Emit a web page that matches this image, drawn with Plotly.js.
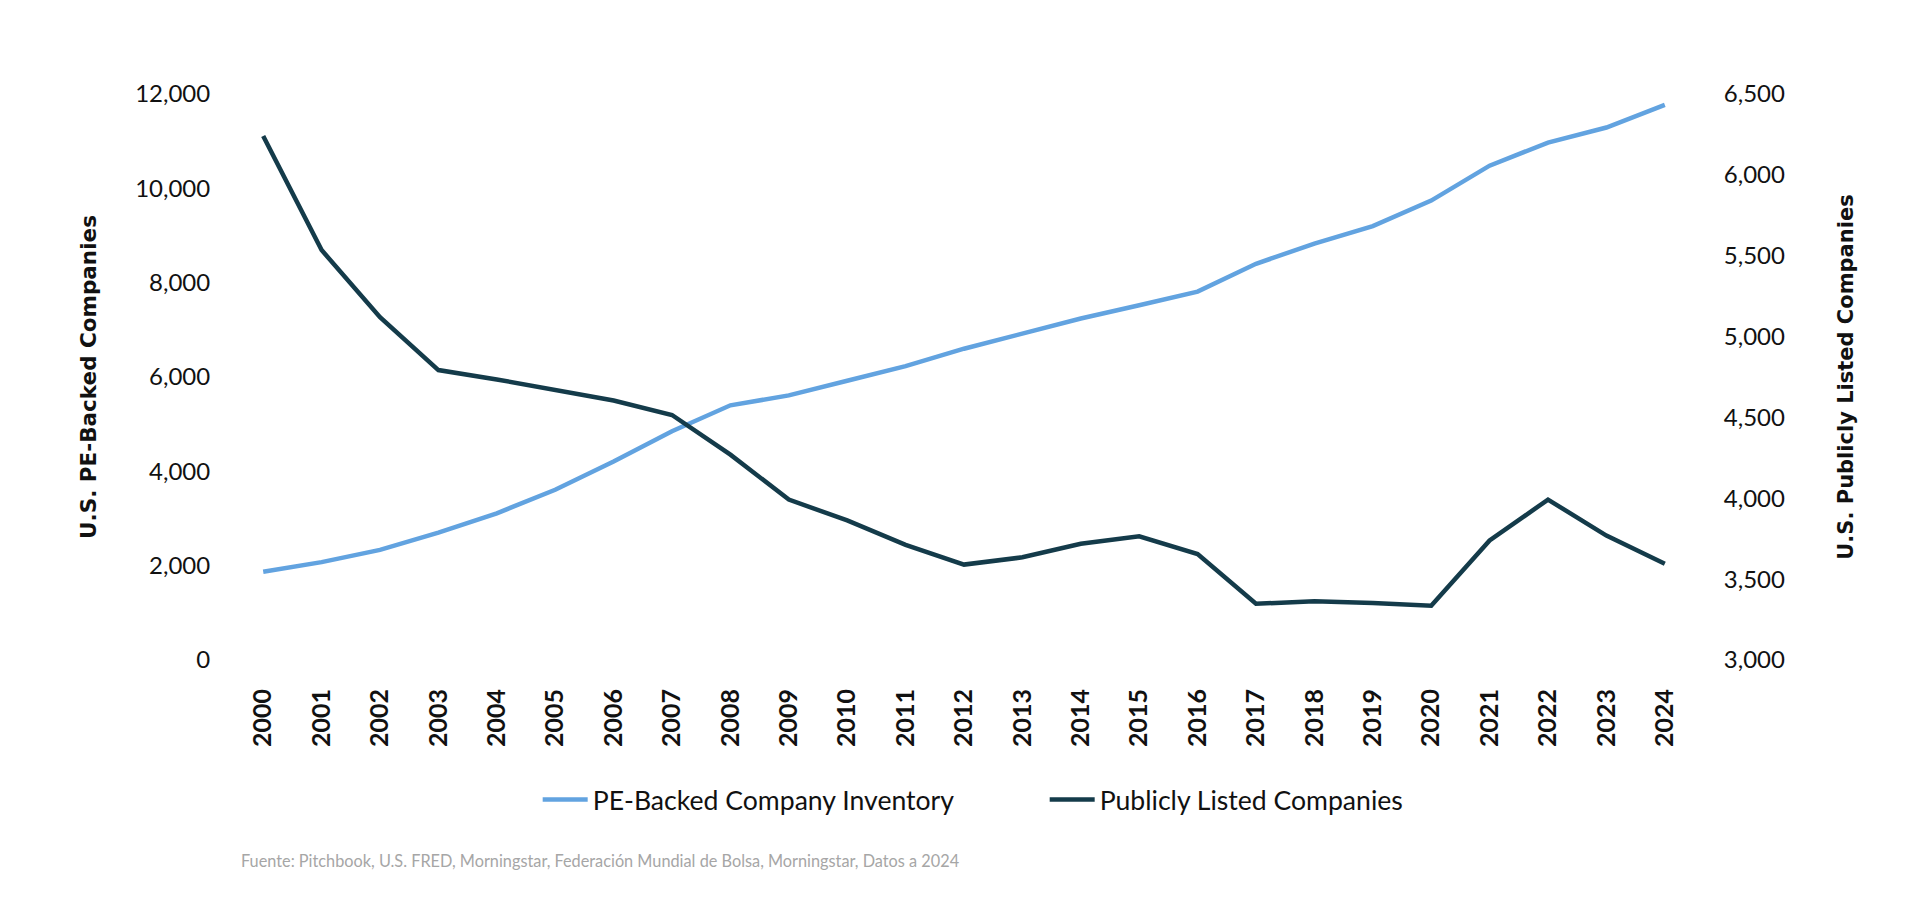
<!DOCTYPE html>
<html>
<head>
<meta charset="utf-8">
<script src="https://cdn.plot.ly/plotly-3.0.1.min.js"></script>
<style>
html,body{margin:0;padding:0;background:#fff;}
#chart{width:1920px;height:906px;}
</style>
</head>
<body>
<div id="chart"></div>
<script>
const years = ["2000","2001","2002","2003","2004","2005","2006","2007","2008","2009","2010","2011","2012","2013","2014","2015","2016","2017","2018","2019","2020","2021","2022","2023","2024"];
const peBacked = [1870,2075,2335,2700,3110,3610,4210,4850,5400,5610,5920,6230,6600,6920,7240,7520,7810,8400,8830,9200,9740,10480,10970,11290,11770];
const publiclyListed = [6240,5535,5120,4793,4735,4672,4605,4515,4270,3992,3863,3712,3590,3635,3719,3765,3655,3348,3363,3352,3336,3739,3992,3769,3595];
const leftTicks = [0,2000,4000,6000,8000,10000,12000];
const rightTicks = [3000,3500,4000,4500,5000,5500,6000,6500];

const traces = [
  {x: years, y: peBacked, name: "PE-Backed Company Inventory", type: "scatter", mode: "lines",
   line: {color: "#62A3E0", width: 4.5}, yaxis: "y"},
  {x: years, y: publiclyListed, name: "Publicly Listed Companies", type: "scatter", mode: "lines",
   line: {color: "#143B4A", width: 4.5}, yaxis: "y2"}
];

const layout = {
  width: 1920, height: 906,
  paper_bgcolor: "#fff", plot_bgcolor: "#fff",
  margin: {l: 234, r: 226, t: 94, b: 246},
  font: {family: "Lato, 'Open Sans', sans-serif", color: "#111"},
  showlegend: true,
  legend: {orientation: "h", x: 0.208, xanchor: "left", y: -0.247, yanchor: "middle", itemwidth: 45,
           font: {size: 26.6, color: "#111", family: "Lato, sans-serif"}, entrywidth: 447, entrywidthmode: "pixels"},
  xaxis: {type: "category", range: [-0.5, 24.5], tickangle: -90, showgrid: false, zeroline: false, showline: false,
          ticks: "outside", ticklen: 18, tickcolor: "rgba(0,0,0,0)",
          tickfont: {size: 25, family: "Lato, sans-serif", weight: "bold", color: "#111"}},
  yaxis: {range: [0, 12000], tickvals: leftTicks, tickformat: ",", showgrid: false, zeroline: false, showline: false,
          ticks: "outside", ticklen: 18, tickcolor: "rgba(0,0,0,0)",
          tickfont: {size: 24, color: "#111"},
          title: {text: "U.S. PE-Backed Companies", standoff: 32, font: {size: 21.5, family: "'DejaVu Sans', sans-serif", weight: "bold", color: "#111"}}},
  yaxis2: {range: [3000, 6500], tickvals: rightTicks, tickformat: ",", overlaying: "y", side: "right",
           showgrid: false, zeroline: false, showline: false,
           ticks: "outside", ticklen: 24, tickcolor: "rgba(0,0,0,0)",
           tickfont: {size: 24, color: "#111"},
           title: {text: "U.S. Publicly Listed Companies", standoff: 54, font: {size: 21, family: "'DejaVu Sans', sans-serif", weight: "bold", color: "#111"}}},
  annotations: [
    {text: "Fuente: Pitchbook, U.S. FRED, Morningstar, Federación Mundial de Bolsa, Morningstar, Datos a 2024",
     xref: "paper", yref: "paper", x: 0.0034, y: -0.355, xanchor: "left", yanchor: "middle", showarrow: false,
     font: {size: 16.3, color: "#a6a6a6", family: "Lato, sans-serif"}}
  ]
};

Plotly.newPlot("chart", traces, layout, {displayModeBar: false, staticPlot: true});
</script>
</body>
</html>
